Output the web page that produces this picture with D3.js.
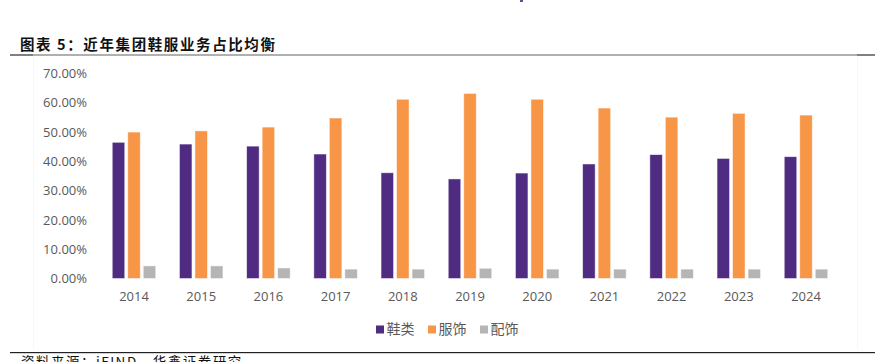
<!DOCTYPE html>
<html><head><meta charset="utf-8">
<script src="https://cdn.jsdelivr.net/npm/d3@7"></script>
<style>
body{margin:0;background:#fff;}
svg{display:block;}
</style></head>
<body>
<svg id="c" width="875" height="362"></svg>
<script>
const years = ["2014","2015","2016","2017","2018","2019","2020","2021","2022","2023","2024"];
const seriesNames = ["鞋类","服饰","配饰"];
const footwear = [46.5,45.9,45.2,42.5,36.1,34.0,36.0,39.1,42.3,41.0,41.6];
const apparel = [50.0,50.4,51.7,54.8,61.2,63.2,61.2,58.2,55.1,56.4,55.8];
const accessories = [4.3,4.3,3.6,3.2,3.2,3.5,3.2,3.2,3.2,3.2,3.2];
const yTicks = [0,10,20,30,40,50,60,70];
const colors = ["#4f2b82","#f79646","#b5b5b5"];

const svg = d3.select("#c");
const CJK = "'Noto Sans CJK SC','Noto Sans',sans-serif";
const LAT = "'Open Sans','Noto Sans CJK SC',sans-serif";

// title
svg.append("text").attr("x",20).attr("y",50).text("图表 5：近年集团鞋服业务占比均衡")
  .attr("font-family",CJK).attr("font-weight","bold").attr("font-size",14.5).attr("fill","#111")
  .attr("letter-spacing",1.6);
svg.append("rect").attr("x",10).attr("y",54).attr("width",865).attr("height",2).attr("fill","#b0b0b0");
svg.append("rect").attr("x",10).attr("y",54).attr("width",23).attr("height",2).attr("fill","#808080");
svg.append("rect").attr("x",857).attr("y",54).attr("width",18).attr("height",2).attr("fill","#808080");
svg.append("line").attr("x1",33.5).attr("x2",33.5).attr("y1",56).attr("y2",350).attr("stroke","#f7f7f7");
svg.append("line").attr("x1",857.5).attr("x2",857.5).attr("y1",56).attr("y2",350).attr("stroke","#f7f7f7");
svg.append("rect").attr("x",520).attr("y",0).attr("width",3).attr("height",2).attr("fill","#6a4ba0");

const x = d3.scaleBand().domain(years).range([100.4,839.6]);
const y = d3.scaleLinear().domain([0,70]).range([278.5,73.5]);

// y axis labels
const yAxis = d3.axisLeft(y).tickValues(yTicks).tickSize(0).tickPadding(0)
  .tickFormat(d=>d.toFixed(2)+"%");
const ya = svg.append("g").attr("transform","translate(87,0)").call(yAxis);
ya.select(".domain").remove();
ya.selectAll("text").attr("font-family",LAT).attr("font-size",13).attr("fill","#595959");

// x axis labels
const xAxis = d3.axisBottom(x).tickSize(0).tickPadding(0);
const xa = svg.append("g").attr("transform","translate(0,292)").call(xAxis);
xa.select(".domain").remove();
xa.selectAll("text").attr("font-family",LAT).attr("font-size",13).attr("fill","#595959");

const data = [footwear, apparel, accessories];
const bw = 12.5, gap = 3;
const inner = d3.scaleBand().domain([0,1,2]).range([-21.75,21.75]).paddingInner(gap/(bw+gap));
data.forEach((arr,si)=>{
  svg.append("g").selectAll("rect").data(arr).join("rect")
    .attr("x",(d,i)=>x(years[i])+x.bandwidth()/2+inner(si))
    .attr("width",inner.bandwidth())
    .attr("y",d=>y(d))
    .attr("height",d=>y(0)-y(d))
    .attr("fill",colors[si])
    .attr("stroke","rgba(255,255,255,0.6)").attr("stroke-width",0.8);
});

// legend
const lx = [376,428,480];
seriesNames.forEach((n,i)=>{
  svg.append("rect").attr("x",lx[i]).attr("y",325.5).attr("width",8).attr("height",8).attr("fill",colors[i]);
  svg.append("text").attr("x",lx[i]+10.5).attr("y",334).text(n)
    .attr("font-family",CJK).attr("font-size",14).attr("fill","#595959");
});

// bottom line and source
svg.append("rect").attr("x",10).attr("y",352).attr("width",865).attr("height",1.2).attr("fill","#222");
svg.append("text").attr("x",21).attr("y",367).text("资料来源：iFIND，华鑫证券研究")
  .attr("font-family",CJK).attr("font-size",13.5).attr("fill","#111").attr("letter-spacing",1.5);
</script>
</body></html>
